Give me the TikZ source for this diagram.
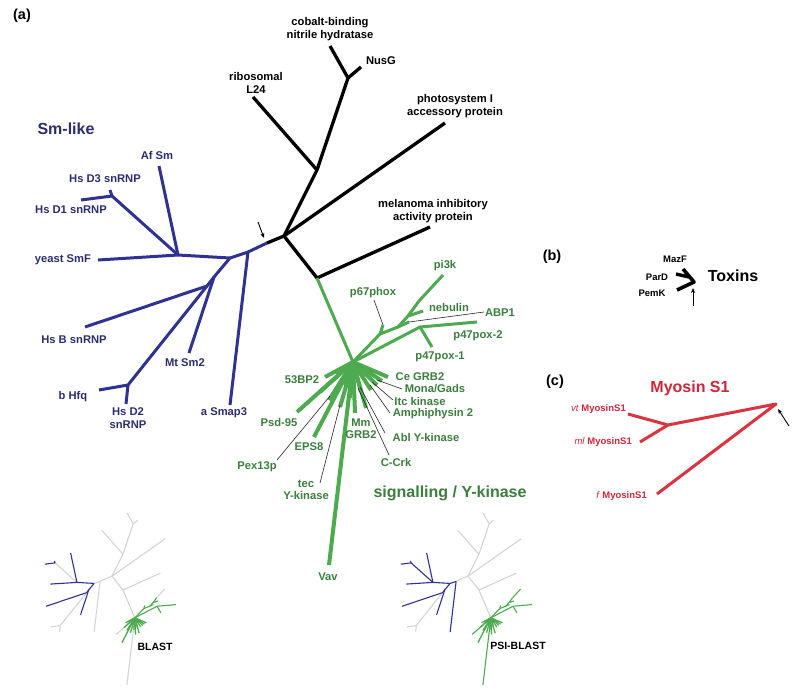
\documentclass[tikz,border=0pt]{standalone}
\usepackage{fontspec}
\setmainfont{Liberation Sans}
\usetikzlibrary{arrows.meta}
\definecolor{smblue}{HTML}{2F3291}
\definecolor{smtext}{HTML}{2B2E6E}
\definecolor{sigline}{HTML}{4DAA4F}
\definecolor{sigtext}{HTML}{3B7E3D}
\definecolor{myored}{HTML}{DA3440}
\definecolor{myotext}{HTML}{D0263A}
\definecolor{ghost}{HTML}{D4D4D4}

\newcommand\phylotree{%
  % black part
  \coordinate (J) at (284,236);
  \coordinate (T) at (267,243);
  \coordinate (K) at (317,170);
  \coordinate (RIB) at (253,97);
  \coordinate (N) at (348,78);
  \coordinate (COB) at (330,46);
  \coordinate (NUS) at (361,67);
  \coordinate (PHO) at (445,123);
  \coordinate (M) at (317,278);
  \coordinate (MEL) at (430,227);
  % Sm-like part
  \coordinate (A) at (248,252);
  \coordinate (SMAP) at (230,405);
  \coordinate (B) at (230,258);
  \coordinate (C) at (178,255);
  \coordinate (YEA) at (98,260);
  \coordinate (AF) at (159,166);
  \coordinate (D) at (112,196);
  \coordinate (DA) at (81,200);
  \coordinate (DC) at (110,190);
  \coordinate (E) at (214,277);
  \coordinate (MT) at (189,353);
  \coordinate (F) at (207,286);
  \coordinate (HSB) at (85,327);
  \coordinate (H) at (128,385);
  \coordinate (HFQ) at (99,390);
  \coordinate (DB) at (126,404);
  % signalling part
  \coordinate (G) at (353,362);
  \coordinate (U1) at (380,334);
  \coordinate (P67) at (383,325);
  \coordinate (U2) at (398,327);
  \coordinate (ABT) at (409,322);
  \coordinate (U3) at (408,316);
  \coordinate (NEB) at (423,311);
  \coordinate (PIM) at (419,301);
  \coordinate (PI3) at (443,275);
  \coordinate (L1) at (420,327);
  \coordinate (P2) at (477,322);
  \coordinate (P1) at (432,347);
  \coordinate (R1) at (325,377);
  \coordinate (R2) at (297,412);
  \coordinate (R3) at (314,437);
  \coordinate (R4) at (329,400);
  \coordinate (R5) at (340,407);
  \coordinate (R6) at (355,413);
  \coordinate (R7) at (366,408);
  \coordinate (R8) at (361,392);
  \coordinate (R9) at (371,390);
  \coordinate (R10) at (377,385);
  \coordinate (R11) at (382,381);
  \coordinate (R12) at (388,377);
  \coordinate (R13) at (336,373);
  \coordinate (R14) at (345,385);
  \coordinate (R15) at (320,392);
  \coordinate (R16) at (350,398);
  \coordinate (VAV) at (329,565);
  % edges
  \draw[cTA] (T) -- (A);
  \draw[cAB] (A) -- (B);
  \draw[cAB] (A) -- (SMAP);
  \draw[cCD] (C) -- (D);
  \draw[cFH] (F) -- (H) -- (HFQ);
  \draw[cFH] (H) -- (DB);
  \draw[cBlu] (B) -- (C) -- (YEA);
  \draw[cBlu] (C) -- (AF);
  \draw[cDD] (D) -- (DA);
  \draw[cDD] (D) -- (DC);
  \draw[cBlu] (B) -- (E) -- (F) -- (HSB);
  \draw[cBlu] (E) -- (MT);
  \draw[cBlk] (T) -- (J);
  \draw[cBlk] (J) -- (K) -- (N) -- (COB);
  \draw[cBlk] (K) -- (RIB);
  \draw[cBlk] (N) -- (NUS);
  \draw[cBlk] (J) -- (PHO);
  \draw[cBlk] (J) -- (M) -- (MEL);
  \draw[cStem] (M) -- (G);
  \draw[cVav] (G) -- (R2);
  \draw[cVav] (G) -- (VAV);
  \draw[cPiO] (PIM) -- (PI3);
  \draw[cGrn] (G) -- (U1) -- (U2) -- (U3) -- (PIM);
  \draw[cGrn] (U1) -- (P67);
  \draw[cGrn] (U2) -- (ABT);
  \draw[cGrn] (U3) -- (NEB);
  \draw[cGrn] (G) -- (L1) -- (P2);
  \draw[cGrn] (L1) -- (P1);
  \foreach \r in {R1,R3,R4,R5,R6,R7,R8,R9,R10,R11,R12,R13,R14,R15,R16}
    \draw[cRay] (G) -- (\r);
}

\begin{document}
\begin{tikzpicture}[x=1pt,y=-1pt,
  line join=round,
  lab/.style={font=\fontsize{11.2}{12.3}\selectfont\bfseries, align=center, inner sep=0pt},
  blab/.style={lab, text=black},
  slab/.style={lab, text=smtext},
  glab/.style={lab, text=sigtext},
  big/.style={font=\fontsize{16}{18}\selectfont\bfseries, inner sep=0pt},
  panel/.style={font=\fontsize{14.5}{16}\selectfont\bfseries, inner sep=0pt},
  pointer/.style={draw=black!85, line width=0.6pt},
  arr/.style={draw=black, line width=0.9pt, -{Stealth[length=5pt,width=4pt]}},
  mainw/.style={cBlk/.style={black,line width=3.3pt},
    cStem/.style={sigline,line width=3pt},
    cBlu/.style={smblue,line width=3pt},
    cCD/.style={smblue,line width=3pt},
    cDD/.style={smblue,line width=3pt},
    cAB/.style={smblue,line width=3pt},
    cTA/.style={smblue,line width=3pt},
    cFH/.style={smblue,line width=3pt},
    cGrn/.style={sigline,line width=3pt},
    cPiO/.style={sigline,line width=3pt},
    cRay/.style={sigline,line width=4pt},
    cVav/.style={sigline,line width=4pt}},
  blastw/.style={cBlk/.style={ghost,line width=1.1pt},
    cStem/.style={ghost,line width=1.1pt},
    cBlu/.style={smblue,line width=1.1pt},
    cCD/.style={ghost,line width=1.1pt},
    cDD/.style={smblue,line width=1.1pt},
    cAB/.style={ghost,line width=1.1pt},
    cTA/.style={ghost,line width=1.1pt},
    cFH/.style={ghost,line width=1.1pt},
    cGrn/.style={sigline,line width=1.1pt},
    cPiO/.style={ghost,line width=1.1pt},
    cRay/.style={sigline,line width=1.3pt},
    cVav/.style={ghost,line width=1.1pt}},
  psiw/.style={cBlk/.style={ghost,line width=1.1pt},
    cStem/.style={ghost,line width=1.1pt},
    cBlu/.style={smblue,line width=1.1pt},
    cCD/.style={smblue,line width=1.1pt},
    cDD/.style={smblue,line width=1.1pt},
    cAB/.style={smblue,line width=1.1pt},
    cTA/.style={ghost,line width=1.1pt},
    cFH/.style={ghost,line width=1.1pt},
    cGrn/.style={sigline,line width=1.1pt},
    cPiO/.style={sigline,line width=1.1pt},
    cRay/.style={sigline,line width=1.3pt},
    cVav/.style={sigline,line width=1.1pt}}
]
\useasboundingbox (0,0) rectangle (800,691);
\fill[white] (0,0) rectangle (800,691);

% ---------- panel (a) main tree ----------
\begin{scope}[mainw]
  \phylotree
\end{scope}

% pointer lines for green leaves
\coordinate (q67) at (374,300);
\coordinate (qab) at (484,312);
\coordinate (qpx) at (277,460);
\coordinate (qpx2) at (330,396);
\coordinate (qtec) at (320,483);
\coordinate (qtec2) at (340,405);
\coordinate (qcrk) at (389,455);
\coordinate (qcrk2) at (358,388);
\coordinate (qabl) at (385,433);
\coordinate (qabl2) at (360,387);
\coordinate (qamp) at (390,413);
\coordinate (qamp2) at (370,385);
\coordinate (qitc) at (393,400);
\coordinate (qitc2) at (372,382);
\coordinate (qmon) at (402,389);
\coordinate (qmon2) at (377,380);
\draw[pointer] (q67) -- (P67);
\draw[pointer] (qab) -- (ABT);
\draw[pointer] (qpx) -- (qpx2);
\draw[pointer] (qtec) -- (qtec2);
\draw[pointer] (qcrk) -- (qcrk2);
\draw[pointer] (qabl) -- (qabl2);
\draw[pointer] (qamp) -- (qamp2);
\draw[pointer] (qitc) -- (qitc2);
\draw[pointer] (qmon) -- (qmon2);

% arrow at the root
\coordinate (arA1) at (258,222);
\coordinate (arA2) at (264,238);
\draw[arr] (arA1) -- (arA2);

\node[panel] (pa) at (22,16) {(a)};

% black labels
\node[blab] (tcob) at (330,29) {cobalt-binding\\nitrile hydratase};
\node[blab] (tnus) at (381,61) {NusG};
\node[blab] (trib) at (256,83) {ribosomal\\L24};
\node[blab] (tpho) at (455,106) {photosystem I\\accessory protein};
\node[blab] (tmel) at (433,211) {melanoma inhibitory\\activity protein};

% Sm-like labels
\node[big, text=smtext] (tsm) at (66,129) {Sm-like};
\node[slab] (taf) at (157,155) {Af Sm};
\node[slab] (td3) at (105,179) {Hs D3 snRNP};
\node[slab] (td1) at (71,210) {Hs D1 snRNP};
\node[slab] (tyea) at (63,260) {yeast SmF};
\node[slab] (thsb) at (74,340) {Hs B snRNP};
\node[slab] (tmt) at (185,363) {Mt Sm2};
\node[slab] (thfq) at (73,397) {b Hfq};
\node[slab] (td2) at (128,418) {Hs D2\\snRNP};
\node[slab] (tsmap) at (224,413) {a Smap3};

% signalling labels
\node[glab] (tpi) at (445,266) {pi3k};
\node[glab] (tp67) at (373,293) {p67phox};
\node[glab] (tneb) at (449,307) {nebulin};
\node[glab] (tabp) at (500,313) {ABP1};
\node[glab] (tp2) at (478,336) {p47pox-2};
\node[glab] (tp1) at (440,357) {p47pox-1};
\node[glab] (t53) at (302,380) {53BP2};
\node[glab] (tce) at (420,377) {Ce GRB2};
\node[glab] (tmon) at (435,389) {Mona/Gads};
\node[glab] (titc) at (420,401) {Itc kinase};
\node[glab] (tamp) at (433,414) {Amphiphysin 2};
\node[glab] (tpsd) at (279,422) {Psd-95};
\node[glab] (tmm) at (361,429) {Mm\\GRB2};
\node[glab] (tabl) at (426,437) {Abl Y-kinase};
\node[glab] (teps) at (309,447) {EPS8};
\node[glab] (tcrk) at (396,462) {C-Crk};
\node[glab] (tpex) at (257,467) {Pex13p};
\node[glab] (ttec) at (306,490) {tec\\Y-kinase};
\node[glab] (tvav) at (328,577) {Vav};
\node[big, text=sigtext] (tsig) at (450,493) {signalling / Y-kinase};

% ---------- small trees ----------
\begin{scope}[shift={(18,498)}, scale=0.331, blastw]
  \phylotree
\end{scope}
\node[font=\fontsize{10.5}{12}\selectfont\bfseries, inner sep=0pt] (tblast) at (155,647) {BLAST};

\begin{scope}[shift={(374,498)}, scale=0.331, psiw]
  \phylotree
\end{scope}
\node[font=\fontsize{10.5}{12}\selectfont\bfseries, inner sep=0pt] (tpsi) at (518,646) {PSI-BLAST};

% ---------- panel (b) ----------
\node[panel] (pb) at (552,257) {(b)};
\coordinate (TX) at (694,282);
\coordinate (TXm) at (683,269);
\coordinate (TXp) at (676,274);
\coordinate (TXq) at (689,277);
\coordinate (TXk) at (677,290);
\draw[black, line width=3.6pt] (TXm) -- (TX) -- (TXk);
\draw[black, line width=3.4pt] (TXp) -- (TXq);
\node[font=\fontsize{9.5}{11}\selectfont\bfseries, inner sep=0pt] (tmaz) at (675,259) {MazF};
\node[font=\fontsize{9.5}{11}\selectfont\bfseries, inner sep=0pt] (tpar) at (657,277) {ParD};
\node[font=\fontsize{9.5}{11}\selectfont\bfseries, inner sep=0pt] (tpem) at (652,293) {PemK};
\node[big] (ttox) at (733,276) {Toxins};
\coordinate (arB1) at (693,306);
\coordinate (arB2) at (693,288);
\draw[arr] (arB1) -- (arB2);

% ---------- panel (c) ----------
\node[panel] (pc) at (555,382) {(c)};
\node[big, text=myotext] (tmyo) at (690,388) {Myosin S1};
\coordinate (MR) at (776,404);
\coordinate (MQ) at (668,425);
\coordinate (MVT) at (628,414);
\coordinate (MML) at (640,442);
\coordinate (MF) at (657,494);
\draw[myored, line width=3pt] (MVT) -- (MQ) -- (MR) -- (MF);
\draw[myored, line width=3pt] (MQ) -- (MML);
\node[font=\fontsize{9.5}{11}\selectfont, text=myotext, anchor=east, inner sep=0pt] (tvt) at (626,409) {\textit{vt} \textbf{MyosinS1}};
\node[font=\fontsize{9.5}{11}\selectfont, text=myotext, anchor=east, inner sep=0pt] (tml) at (632,442) {\textit{ml} \textbf{MyosinS1}};
\node[font=\fontsize{9.5}{11}\selectfont, text=myotext, anchor=east, inner sep=0pt] (tf) at (647,496) {\textit{f} \textbf{MyosinS1}};
\coordinate (arC1) at (789,426);
\coordinate (arC2) at (778,409);
\draw[arr] (arC1) -- (arC2);
\end{tikzpicture}
\end{document}
